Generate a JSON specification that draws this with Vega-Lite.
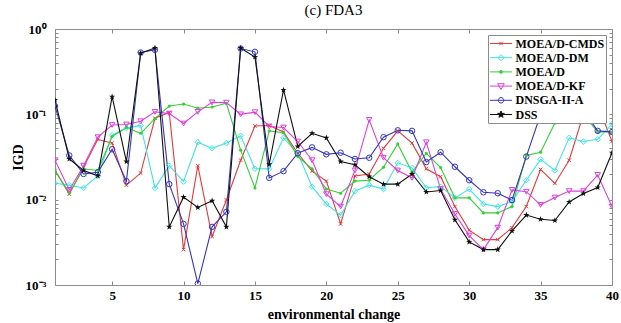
{
  "$schema": "https://vega.github.io/schema/vega-lite/v6.json",
  "width": 557,
  "height": 256,
  "autosize": {"type": "none"},
  "padding": {"left": 55, "top": 29, "right": 9, "bottom": 38},
  "background": "white",
  "title": {"text": "(c) FDA3", "font": "Liberation Serif", "fontSize": 15, "fontWeight": "normal", "color": "black", "offset": 5},
  "config": {
    "font": "Liberation Serif",
    "view": {"stroke": null},
    "axis": {"grid": false, "domainColor": "#8c8c8c", "tickColor": "#8c8c8c", "domainWidth": 1, "tickWidth": 1,
             "labelFont": "Liberation Serif", "labelFontWeight": "bold", "labelFontSize": 13, "labelColor": "black",
             "titleFont": "Liberation Serif", "titleFontWeight": "bold", "titleFontSize": 14, "titleColor": "black"}
  },
  "data": {"values": [
    {"x":1,"s":"MOEA/D-CMDS","v":0.022},{"x":2,"s":"MOEA/D-CMDS","v":0.0116},{"x":3,"s":"MOEA/D-CMDS","v":0.024},{"x":4,"s":"MOEA/D-CMDS","v":0.051},{"x":5,"s":"MOEA/D-CMDS","v":0.046},{"x":6,"s":"MOEA/D-CMDS","v":0.0148},{"x":7,"s":"MOEA/D-CMDS","v":0.0205},{"x":8,"s":"MOEA/D-CMDS","v":0.09},{"x":9,"s":"MOEA/D-CMDS","v":0.105},{"x":10,"s":"MOEA/D-CMDS","v":0.0026},
    {"x":11,"s":"MOEA/D-CMDS","v":0.025},{"x":12,"s":"MOEA/D-CMDS","v":0.0037},{"x":13,"s":"MOEA/D-CMDS","v":0.0099},{"x":14,"s":"MOEA/D-CMDS","v":0.029},{"x":15,"s":"MOEA/D-CMDS","v":0.073},{"x":16,"s":"MOEA/D-CMDS","v":0.074},{"x":17,"s":"MOEA/D-CMDS","v":0.062},{"x":18,"s":"MOEA/D-CMDS","v":0.035},{"x":19,"s":"MOEA/D-CMDS","v":0.0216},{"x":20,"s":"MOEA/D-CMDS","v":0.0165},
    {"x":21,"s":"MOEA/D-CMDS","v":0.0052},{"x":22,"s":"MOEA/D-CMDS","v":0.019},{"x":23,"s":"MOEA/D-CMDS","v":0.020},{"x":24,"s":"MOEA/D-CMDS","v":0.040},{"x":25,"s":"MOEA/D-CMDS","v":0.064},{"x":26,"s":"MOEA/D-CMDS","v":0.046},{"x":27,"s":"MOEA/D-CMDS","v":0.023},{"x":28,"s":"MOEA/D-CMDS","v":0.0186},{"x":29,"s":"MOEA/D-CMDS","v":0.0083},{"x":30,"s":"MOEA/D-CMDS","v":0.0044},
    {"x":31,"s":"MOEA/D-CMDS","v":0.0034},{"x":32,"s":"MOEA/D-CMDS","v":0.0034},{"x":33,"s":"MOEA/D-CMDS","v":0.0047},{"x":34,"s":"MOEA/D-CMDS","v":0.0083},{"x":35,"s":"MOEA/D-CMDS","v":0.0226},{"x":36,"s":"MOEA/D-CMDS","v":0.0155},{"x":37,"s":"MOEA/D-CMDS","v":0.029},{"x":38,"s":"MOEA/D-CMDS","v":0.1},{"x":39,"s":"MOEA/D-CMDS","v":0.13},{"x":40,"s":"MOEA/D-CMDS","v":0.048},

    {"x":1,"s":"MOEA/D-DM","v":0.0156},{"x":2,"s":"MOEA/D-DM","v":0.0148},{"x":3,"s":"MOEA/D-DM","v":0.0137},{"x":4,"s":"MOEA/D-DM","v":0.019},{"x":5,"s":"MOEA/D-DM","v":0.057},{"x":6,"s":"MOEA/D-DM","v":0.069},{"x":7,"s":"MOEA/D-DM","v":0.074},{"x":8,"s":"MOEA/D-DM","v":0.0137},{"x":9,"s":"MOEA/D-DM","v":0.025},{"x":10,"s":"MOEA/D-DM","v":0.0163},
    {"x":11,"s":"MOEA/D-DM","v":0.047},{"x":12,"s":"MOEA/D-DM","v":0.040},{"x":13,"s":"MOEA/D-DM","v":0.046},{"x":14,"s":"MOEA/D-DM","v":0.056},{"x":15,"s":"MOEA/D-DM","v":0.023},{"x":16,"s":"MOEA/D-DM","v":0.023},{"x":17,"s":"MOEA/D-DM","v":0.053},{"x":18,"s":"MOEA/D-DM","v":0.035},{"x":19,"s":"MOEA/D-DM","v":0.0142},{"x":20,"s":"MOEA/D-DM","v":0.0089},
    {"x":21,"s":"MOEA/D-DM","v":0.0066},{"x":22,"s":"MOEA/D-DM","v":0.0126},{"x":23,"s":"MOEA/D-DM","v":0.0148},{"x":24,"s":"MOEA/D-DM","v":0.0133},{"x":25,"s":"MOEA/D-DM","v":0.027},{"x":26,"s":"MOEA/D-DM","v":0.0235},{"x":27,"s":"MOEA/D-DM","v":0.0138},{"x":28,"s":"MOEA/D-DM","v":0.0142},{"x":29,"s":"MOEA/D-DM","v":0.0105},{"x":30,"s":"MOEA/D-DM","v":0.0133},
    {"x":31,"s":"MOEA/D-DM","v":0.0089},{"x":32,"s":"MOEA/D-DM","v":0.0083},{"x":33,"s":"MOEA/D-DM","v":0.0095},{"x":34,"s":"MOEA/D-DM","v":0.0169},{"x":35,"s":"MOEA/D-DM","v":0.0297},{"x":36,"s":"MOEA/D-DM","v":0.022},{"x":37,"s":"MOEA/D-DM","v":0.053},{"x":38,"s":"MOEA/D-DM","v":0.048},{"x":39,"s":"MOEA/D-DM","v":0.051},{"x":40,"s":"MOEA/D-DM","v":0.077},

    {"x":1,"s":"MOEA/D","v":0.022},{"x":2,"s":"MOEA/D","v":0.012},{"x":3,"s":"MOEA/D","v":0.023},{"x":4,"s":"MOEA/D","v":0.022},{"x":5,"s":"MOEA/D","v":0.055},{"x":6,"s":"MOEA/D","v":0.070},{"x":7,"s":"MOEA/D","v":0.060},{"x":8,"s":"MOEA/D","v":0.089},{"x":9,"s":"MOEA/D","v":0.125},{"x":10,"s":"MOEA/D","v":0.132},
    {"x":11,"s":"MOEA/D","v":0.118},{"x":12,"s":"MOEA/D","v":0.122},{"x":13,"s":"MOEA/D","v":0.135},{"x":14,"s":"MOEA/D","v":0.038},{"x":15,"s":"MOEA/D","v":0.0137},{"x":16,"s":"MOEA/D","v":0.064},{"x":17,"s":"MOEA/D","v":0.061},{"x":18,"s":"MOEA/D","v":0.032},{"x":19,"s":"MOEA/D","v":0.023},{"x":20,"s":"MOEA/D","v":0.0133},
    {"x":21,"s":"MOEA/D","v":0.0119},{"x":22,"s":"MOEA/D","v":0.0165},{"x":23,"s":"MOEA/D","v":0.0169},{"x":24,"s":"MOEA/D","v":0.024},{"x":25,"s":"MOEA/D","v":0.045},{"x":26,"s":"MOEA/D","v":0.021},{"x":27,"s":"MOEA/D","v":0.035},{"x":28,"s":"MOEA/D","v":0.0238},{"x":29,"s":"MOEA/D","v":0.0105},{"x":30,"s":"MOEA/D","v":0.0105},
    {"x":31,"s":"MOEA/D","v":0.0070},{"x":32,"s":"MOEA/D","v":0.0070},{"x":33,"s":"MOEA/D","v":0.0083},{"x":34,"s":"MOEA/D","v":0.033},{"x":35,"s":"MOEA/D","v":0.036},{"x":36,"s":"MOEA/D","v":0.079},{"x":37,"s":"MOEA/D","v":0.13},{"x":38,"s":"MOEA/D","v":0.1},{"x":39,"s":"MOEA/D","v":0.062},{"x":40,"s":"MOEA/D","v":0.062},

    {"x":1,"s":"MOEA/D-KF","v":0.029},{"x":2,"s":"MOEA/D-KF","v":0.013},{"x":3,"s":"MOEA/D-KF","v":0.025},{"x":4,"s":"MOEA/D-KF","v":0.054},{"x":5,"s":"MOEA/D-KF","v":0.075},{"x":6,"s":"MOEA/D-KF","v":0.076},{"x":7,"s":"MOEA/D-KF","v":0.083},{"x":8,"s":"MOEA/D-KF","v":0.107},{"x":9,"s":"MOEA/D-KF","v":0.102},{"x":10,"s":"MOEA/D-KF","v":0.078},
    {"x":11,"s":"MOEA/D-KF","v":0.107},{"x":12,"s":"MOEA/D-KF","v":0.138},{"x":13,"s":"MOEA/D-KF","v":0.137},{"x":14,"s":"MOEA/D-KF","v":0.100},{"x":15,"s":"MOEA/D-KF","v":0.106},{"x":16,"s":"MOEA/D-KF","v":0.072},{"x":17,"s":"MOEA/D-KF","v":0.070},{"x":18,"s":"MOEA/D-KF","v":0.048},{"x":19,"s":"MOEA/D-KF","v":0.029},{"x":20,"s":"MOEA/D-KF","v":0.0116},
    {"x":21,"s":"MOEA/D-KF","v":0.0083},{"x":22,"s":"MOEA/D-KF","v":0.022},{"x":23,"s":"MOEA/D-KF","v":0.086},{"x":24,"s":"MOEA/D-KF","v":0.031},{"x":25,"s":"MOEA/D-KF","v":0.022},{"x":26,"s":"MOEA/D-KF","v":0.018},{"x":27,"s":"MOEA/D-KF","v":0.047},{"x":28,"s":"MOEA/D-KF","v":0.0133},{"x":29,"s":"MOEA/D-KF","v":0.0068},{"x":30,"s":"MOEA/D-KF","v":0.0038},
    {"x":31,"s":"MOEA/D-KF","v":0.0026},{"x":32,"s":"MOEA/D-KF","v":0.0047},{"x":33,"s":"MOEA/D-KF","v":0.0130},{"x":34,"s":"MOEA/D-KF","v":0.0124},{"x":35,"s":"MOEA/D-KF","v":0.0087},{"x":36,"s":"MOEA/D-KF","v":0.0106},{"x":37,"s":"MOEA/D-KF","v":0.0126},{"x":38,"s":"MOEA/D-KF","v":0.0126},{"x":39,"s":"MOEA/D-KF","v":0.0195},{"x":40,"s":"MOEA/D-KF","v":0.0083},

    {"x":1,"s":"DNSGA-II-A","v":0.125},{"x":2,"s":"DNSGA-II-A","v":0.033},{"x":3,"s":"DNSGA-II-A","v":0.020},{"x":4,"s":"DNSGA-II-A","v":0.021},{"x":5,"s":"DNSGA-II-A","v":0.039},{"x":6,"s":"DNSGA-II-A","v":0.0165},{"x":7,"s":"DNSGA-II-A","v":0.53},{"x":8,"s":"DNSGA-II-A","v":0.57},{"x":9,"s":"DNSGA-II-A","v":0.0152},{"x":10,"s":"DNSGA-II-A","v":0.0052},
    {"x":11,"s":"DNSGA-II-A","v":0.00104},{"x":12,"s":"DNSGA-II-A","v":0.0048},{"x":13,"s":"DNSGA-II-A","v":0.0072},{"x":14,"s":"DNSGA-II-A","v":0.59},{"x":15,"s":"DNSGA-II-A","v":0.54},{"x":16,"s":"DNSGA-II-A","v":0.018},{"x":17,"s":"DNSGA-II-A","v":0.0216},{"x":18,"s":"DNSGA-II-A","v":0.035},{"x":19,"s":"DNSGA-II-A","v":0.041},{"x":20,"s":"DNSGA-II-A","v":0.034},
    {"x":21,"s":"DNSGA-II-A","v":0.0355},{"x":22,"s":"DNSGA-II-A","v":0.030},{"x":23,"s":"DNSGA-II-A","v":0.031},{"x":24,"s":"DNSGA-II-A","v":0.054},{"x":25,"s":"DNSGA-II-A","v":0.065},{"x":26,"s":"DNSGA-II-A","v":0.064},{"x":27,"s":"DNSGA-II-A","v":0.0276},{"x":28,"s":"DNSGA-II-A","v":0.036},{"x":29,"s":"DNSGA-II-A","v":0.0243},{"x":30,"s":"DNSGA-II-A","v":0.0169},
    {"x":31,"s":"DNSGA-II-A","v":0.0122},{"x":32,"s":"DNSGA-II-A","v":0.0119},{"x":33,"s":"DNSGA-II-A","v":0.0099},{"x":34,"s":"DNSGA-II-A","v":0.032},{"x":35,"s":"DNSGA-II-A","v":0.10},{"x":36,"s":"DNSGA-II-A","v":0.2},{"x":37,"s":"DNSGA-II-A","v":0.25},{"x":38,"s":"DNSGA-II-A","v":0.11},{"x":39,"s":"DNSGA-II-A","v":0.064},{"x":40,"s":"DNSGA-II-A","v":0.062},

    {"x":1,"s":"DSS","v":0.147},{"x":2,"s":"DSS","v":0.030},{"x":3,"s":"DSS","v":0.022},{"x":4,"s":"DSS","v":0.019},{"x":5,"s":"DSS","v":0.161},{"x":6,"s":"DSS","v":0.028},{"x":7,"s":"DSS","v":0.52},{"x":8,"s":"DSS","v":0.60},{"x":9,"s":"DSS","v":0.0048},{"x":10,"s":"DSS","v":0.0107},
    {"x":11,"s":"DSS","v":0.0081},{"x":12,"s":"DSS","v":0.0097},{"x":13,"s":"DSS","v":0.0048},{"x":14,"s":"DSS","v":0.60},{"x":15,"s":"DSS","v":0.47},{"x":16,"s":"DSS","v":0.026},{"x":17,"s":"DSS","v":0.193},{"x":18,"s":"DSS","v":0.042},{"x":19,"s":"DSS","v":0.060},{"x":20,"s":"DSS","v":0.053},
    {"x":21,"s":"DSS","v":0.028},{"x":22,"s":"DSS","v":0.0256},{"x":23,"s":"DSS","v":0.0186},{"x":24,"s":"DSS","v":0.0152},{"x":25,"s":"DSS","v":0.0152},{"x":26,"s":"DSS","v":0.020},{"x":27,"s":"DSS","v":0.0123},{"x":28,"s":"DSS","v":0.0128},{"x":29,"s":"DSS","v":0.0058},{"x":30,"s":"DSS","v":0.0032},
    {"x":31,"s":"DSS","v":0.0026},{"x":32,"s":"DSS","v":0.0026},{"x":33,"s":"DSS","v":0.0043},{"x":34,"s":"DSS","v":0.0066},{"x":35,"s":"DSS","v":0.0059},{"x":36,"s":"DSS","v":0.0057},{"x":37,"s":"DSS","v":0.0094},{"x":38,"s":"DSS","v":0.0118},{"x":39,"s":"DSS","v":0.0139},{"x":40,"s":"DSS","v":0.0355}
  ]},
  "layer": [
    {
      "mark": {"type": "line", "strokeWidth": 1.1, "clip": true},
      "encoding": {
        "x": {"field": "x", "type": "quantitative",
              "scale": {"domain": [1, 40], "nice": false, "zero": false},
              "axis": {"orient": "bottom", "title": "environmental change", "values": [5,10,15,20,25,30,35,40],
                       "tickSize": -4, "labelPadding": 8, "titlePadding": 5, "labelFlush": false}},
        "y": {"field": "v", "type": "quantitative",
              "scale": {"type": "log", "domain": [0.001, 1], "nice": false},
              "axis": {"orient": "left", "title": "IGD", "titlePadding": 0,
                       "values": [0.001,0.002,0.003,0.004,0.005,0.006,0.007,0.008,0.009,0.01,0.02,0.03,0.04,0.05,0.06,0.07,0.08,0.09,0.1,0.2,0.3,0.4,0.5,0.6,0.7,0.8,0.9,1],
                       "labelExpr": "datum.value == 1 ? '10⁰' : datum.value == 0.1 ? '10⁻¹' : datum.value == 0.01 ? '10⁻²' : datum.value == 0.001 ? '10⁻³' : ''",
                       "tickSize": -3, "labelPadding": 12, "labelFlush": false, "labelOverlap": false}},
        "color": {"field": "s", "type": "nominal",
                  "scale": {"domain": ["MOEA/D-CMDS","MOEA/D-DM","MOEA/D","MOEA/D-KF","DNSGA-II-A","DSS"],
                            "range": ["#e8383a","#3fe3e6","#33d133","#dc3fe0","#3434c4","#111111"]},
                  "legend": {"orient": "none", "legendX": 433, "legendY": 6, "title": null,
                             "fillColor": "white", "strokeColor": "#8c8c8c", "padding": 1.5,
                             "clipHeight": 14, "rowPadding": 0.2, "symbolSize": 484, "symbolOffset": 0,
                             "symbolType": "M-1,0H1", "symbolStrokeWidth": 1,
                             "labelOffset": 3, "labelFont": "Liberation Serif", "labelFontWeight": "bold",
                             "labelFontSize": 12, "labelColor": "black", "labelLimit": 200,
                             "encode": {"symbols": {"update": {
                               "shape": {"signal": "datum.value === 'MOEA/D-CMDS' ? 'M-1,0H1M-0.16,-0.16L0.16,0.16M-0.16,0.16L0.16,-0.16' : datum.value === 'MOEA/D-DM' ? 'M-1,0H1M-0.28,0L0,-0.28L0.28,0L0,0.28Z' : datum.value === 'MOEA/D' ? 'M-1,0H1M-0.13,0A0.13,0.13 0 1,0 0.13,0A0.13,0.13 0 1,0 -0.13,0Z' : datum.value === 'MOEA/D-KF' ? 'M-1,0H1M-0.3,-0.22L0.3,-0.22L0,0.3Z' : datum.value === 'DNSGA-II-A' ? 'M-1,0H1M-0.25,0A0.25,0.25 0 1,0 0.25,0A0.25,0.25 0 1,0 -0.25,0Z' : 'M-1,0H1M0,-0.32L0.076,-0.105L0.304,-0.099L0.124,0.04L0.188,0.259L0,0.13L-0.188,0.259L-0.124,0.04L-0.304,-0.099L-0.076,-0.105Z'"},
                               "fill": {"signal": "scale('color', datum.value)"},
                               "fillOpacity": {"signal": "datum.value === 'MOEA/D' || datum.value === 'DSS' ? 1 : 0"},
                               "stroke": {"signal": "scale('color', datum.value)"},
                               "strokeWidth": {"value": 1},
                               "size": {"value": 484},
                               "opacity": {"value": 1}
                             }}}}}
      }
    },
    {
      "transform": [{"filter": "datum.s === 'MOEA/D-CMDS'"}],
      "mark": {"type": "point", "shape": "M-1,-1L1,1M-1,1L1,-1", "size": 12, "filled": false, "strokeWidth": 1, "opacity": 1, "clip": true},
      "encoding": {
        "x": {"field": "x", "type": "quantitative",
              "axis": {"orient": "top", "title": null, "labels": false, "values": [5,10,15,20,25,30,35,40], "tickSize": -4}},
        "y": {"field": "v", "type": "quantitative",
              "axis": {"orient": "right", "title": null, "labels": false, "tickSize": -3,
                       "values": [0.001,0.002,0.003,0.004,0.005,0.006,0.007,0.008,0.009,0.01,0.02,0.03,0.04,0.05,0.06,0.07,0.08,0.09,0.1,0.2,0.3,0.4,0.5,0.6,0.7,0.8,0.9,1]}},
        "color": {"field": "s", "type": "nominal", "legend": null}
      }
    },
    {
      "transform": [{"filter": "datum.s === 'MOEA/D-DM'"}],
      "mark": {"type": "point", "shape": "diamond", "size": 30, "filled": false, "strokeWidth": 1, "opacity": 1, "clip": true},
      "encoding": {
        "x": {"field": "x", "type": "quantitative", "axis": null},
        "y": {"field": "v", "type": "quantitative", "axis": null},
        "color": {"field": "s", "type": "nominal", "legend": null}
      }
    },
    {
      "transform": [{"filter": "datum.s === 'MOEA/D'"}],
      "mark": {"type": "point", "shape": "circle", "size": 10, "filled": true, "strokeWidth": 1, "opacity": 1, "clip": true},
      "encoding": {
        "x": {"field": "x", "type": "quantitative", "axis": null},
        "y": {"field": "v", "type": "quantitative", "axis": null},
        "color": {"field": "s", "type": "nominal", "legend": null}
      }
    },
    {
      "transform": [{"filter": "datum.s === 'MOEA/D-KF'"}],
      "mark": {"type": "point", "shape": "triangle-down", "size": 30, "filled": false, "strokeWidth": 1, "opacity": 1, "clip": true},
      "encoding": {
        "x": {"field": "x", "type": "quantitative", "axis": null},
        "y": {"field": "v", "type": "quantitative", "axis": null},
        "color": {"field": "s", "type": "nominal", "legend": null}
      }
    },
    {
      "transform": [{"filter": "datum.s === 'DNSGA-II-A'"}],
      "mark": {"type": "point", "shape": "circle", "size": 30, "filled": false, "strokeWidth": 1, "opacity": 1, "clip": true},
      "encoding": {
        "x": {"field": "x", "type": "quantitative", "axis": null},
        "y": {"field": "v", "type": "quantitative", "axis": null},
        "color": {"field": "s", "type": "nominal", "legend": null}
      }
    },
    {
      "transform": [{"filter": "datum.s === 'DSS'"}],
      "mark": {"type": "point", "shape": "M0,-1L0.237,-0.326L0.951,-0.309L0.388,0.125L0.588,0.809L0,0.406L-0.588,0.809L-0.388,0.125L-0.951,-0.309L-0.237,-0.326Z", "size": 42, "filled": true, "strokeWidth": 1, "opacity": 1, "clip": true},
      "encoding": {
        "x": {"field": "x", "type": "quantitative", "axis": null},
        "y": {"field": "v", "type": "quantitative", "axis": null},
        "color": {"field": "s", "type": "nominal", "legend": null}
      }
    }
  ],
  "resolve": {"axis": {"x": "independent", "y": "independent"}}
}
